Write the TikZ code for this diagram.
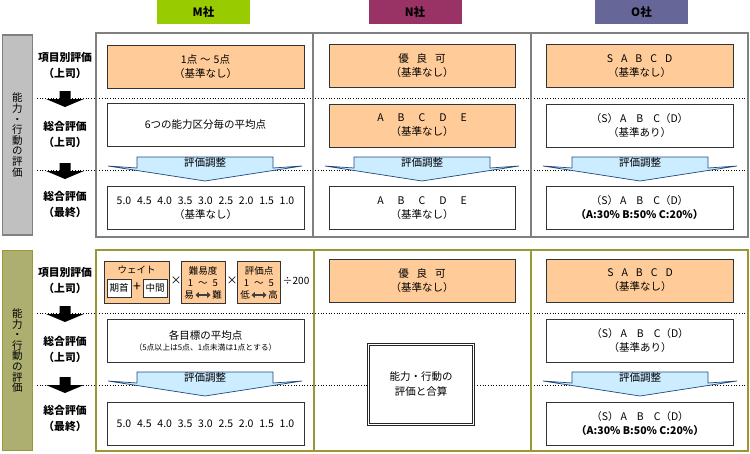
\documentclass[tikz,border=0pt]{standalone}
\usepackage{fontspec}
\setmainfont{Noto Sans CJK JP}
\usepackage{tikz}
\usetikzlibrary{shapes,arrows.meta,backgrounds}
\definecolor{peach}{RGB}{255,204,153}
\definecolor{skyfill}{RGB}{204,236,255}
\definecolor{navyline}{RGB}{31,73,125}
\definecolor{greenM}{RGB}{153,204,0}
\definecolor{wineN}{RGB}{153,51,102}
\definecolor{slateO}{RGB}{102,102,153}
\definecolor{frameGray}{RGB}{128,128,128}
\definecolor{sideGray}{RGB}{192,192,192}
\definecolor{frameOlive}{RGB}{153,153,51}
\definecolor{sideOlive}{RGB}{173,175,113}
\newcommand{\numgap}{\hspace{5.8pt}}
\tikzset{
  hdr/.style={ fill=#1, minimum width=93pt, minimum height=24pt, font=\fontsize{11.5}{13}\selectfont\bfseries }
}
\tikzset{
  orbox/.style={ draw=black!80, line width=0.8pt, fill=peach, minimum height=43pt, align=center }
}
\tikzset{
  whbox/.style={ draw=black!80, line width=0.8pt, fill=white, minimum height=43pt, align=center }
}
\tikzset{
  dblbox/.style={ draw=black!85, double, double distance=1.6pt, line width=0.8pt, fill=white, minimum width=105pt, minimum height=80pt, align=center, font=\fontsize{10.5}{15}\selectfont }
}
\tikzset{
  rowlab/.style={ align=center, font=\fontsize{10.8}{16}\selectfont\bfseries }
}
\tikzset{
  sidelab/.style={ draw=#1, line width=1.6pt, minimum width=30pt, minimum height=200pt, align=center, font=\fontsize{10.5}{10.6}\selectfont }
}
\tikzset{
  frameline/.style={ draw=#1, line width=2pt }
}
\tikzset{
  sepline/.style={ dotted, line width=0.7pt }
}
\tikzset{
  adjarr/.style={ draw=navyline, line width=0.7pt, fill=skyfill }
}
\tikzset{
  blkarr/.style={ fill=black }
}
\tikzset{
  fsmall/.style={ font=\fontsize{9.5}{11}\selectfont, inner sep=1pt }
}
\tikzset{
  inbox/.style={ draw=black!80, line width=0.7pt, fill=white, minimum width=24pt, minimum height=18pt, inner sep=0pt, font=\fontsize{9.5}{11}\selectfont }
}
\tikzset{
  dblarr/.style={ {Triangle[width=6pt,length=3.5pt]}-{Triangle[width=6pt,length=3.5pt]}, line width=2.2pt, draw=black!75, shorten <=0.5pt, shorten >=0.5pt }
}

\begin{document}
\begin{tikzpicture}[x=1pt, y=-1pt, font=\fontsize{10.5}{14}\selectfont]
  \useasboundingbox (0,0) rectangle (750,453);
  % company headers
  \node[hdr=greenM] (hM) at (203.5,12) {M社};
  \node[hdr=wineN] (hN) at (415,12) {N社};
  \node[hdr=slateO] (hO) at (641.5,12) {O社};

  % upper panel
  \draw[sepline] (37,98) -- (748,98);
  \draw[sepline] (37,170) -- (748,170);
  \node[sidelab=frameGray, fill=sideGray] (sideU) at (17.5,135) {能\\力\\・\\行\\動\\の\\評\\価};
  \draw[frameline=frameGray] (96,33) rectangle (748,237);
  \draw[frameline=frameGray] (313,33) -- (313,237);
  \draw[frameline=frameGray] (531,33) -- (531,237);
  \node[rowlab] (labU1) at (65,65) {項目別評価\\（上司）};
  \node[rowlab] (labU2) at (65,134) {総合評価\\（上司）};
  \node[rowlab] (labU3) at (65,204) {総合評価\\（最終）};
  \fill[blkarr, shift={(65,91)}] (-5.5,0) -- (5.5,0) -- (5.5,8) -- (19,8) -- (0,16) -- (-19,8) -- (-5.5,8) -- cycle;
  \fill[blkarr, shift={(65,163)}] (-5.5,0) -- (5.5,0) -- (5.5,8) -- (19,8) -- (0,16) -- (-19,8) -- (-5.5,8) -- cycle;

  \node[orbox, minimum width=197pt] (mU1) at (205.5,66.5) {1点\hspace{3pt}～\hspace{3pt}5点\\（基準なし）};
  \node[whbox, minimum width=197pt] (mU2) at (205.5,125) {6つの能力区分毎の平均点};
  \node[whbox, minimum width=197pt] (mU3) at (205.5,208) {5.0\numgap 4.5\numgap 4.0\numgap 3.5\numgap 3.0\numgap 2.5\numgap 2.0\numgap 1.5\numgap 1.0\\（基準なし）};
  \node[orbox, minimum width=186pt] (nU1) at (422,66) {優\hspace{8pt}良\hspace{8pt}可\\（基準なし）};
  \node[orbox, minimum width=186pt] (nU2) at (422,125.5) {A\hspace{14pt}B\hspace{14pt}C\hspace{14pt}D\hspace{14pt}E\\（基準なし）};
  \node[whbox, minimum width=186pt] (nU3) at (422,208) {A\hspace{14pt}B\hspace{14pt}C\hspace{14pt}D\hspace{14pt}E\\（基準なし）};
  \node[orbox, minimum width=187pt] (oU1) at (639.5,66) {S\hspace{8pt}A\hspace{8pt}B\hspace{8pt}C\hspace{8pt}D\\（基準なし）};
  \node[whbox, minimum width=187pt] (oU2) at (639.5,125.5) {（S）\hspace{2pt}A\hspace{10pt}B\hspace{10pt}C（D）\\（基準あり）};
  \node[whbox, minimum width=187pt] (oU3) at (639.5,208) {（S）\hspace{2pt}A\hspace{10pt}B\hspace{10pt}C（D）\\\textbf{（A:30\% B:50\% C:20\%）}};

  \draw[adjarr, shift={(205,157)}] (-68,0) -- (68,0) -- (68,11) -- (97,9) -- (0,24) -- (-97,9) -- (-68,11) -- cycle;
  \node (adjMU) at (205,162.5) {評価調整};
  \draw[adjarr, shift={(422,157)}] (-68,0) -- (68,0) -- (68,11) -- (97,9) -- (0,24) -- (-97,9) -- (-68,11) -- cycle;
  \node (adjNU) at (422,162.5) {評価調整};
  \draw[adjarr, shift={(640,157)}] (-68,0) -- (68,0) -- (68,11) -- (97,9) -- (0,24) -- (-97,9) -- (-68,11) -- cycle;
  \node (adjOU) at (640,162.5) {評価調整};

  % lower panel
  \draw[sepline] (37,313) -- (748,313);
  \draw[sepline] (37,385) -- (748,385);
  \node[sidelab=frameOlive, fill=sideOlive] (sideL) at (17.5,350.5) {能\\力\\・\\行\\動\\の\\評\\価};
  \draw[frameline=frameOlive] (96,250) rectangle (748,451);
  \draw[frameline=frameOlive] (314,250) -- (314,451);
  \draw[frameline=frameOlive] (531,250) -- (531,451);
  \node[rowlab] (labL1) at (65,280.5) {項目別評価\\（上司）};
  \node[rowlab] (labL2) at (65,349) {総合評価\\（上司）};
  \node[rowlab] (labL3) at (65,418) {総合評価\\（最終）};
  \fill[blkarr, shift={(65,306)}] (-5.5,0) -- (5.5,0) -- (5.5,8) -- (19,8) -- (0,16) -- (-19,8) -- (-5.5,8) -- cycle;
  \fill[blkarr, shift={(65,377)}] (-5.5,0) -- (5.5,0) -- (5.5,8) -- (19,8) -- (0,16) -- (-19,8) -- (-5.5,8) -- cycle;

  % M: weight formula
  \node[orbox, minimum width=65pt, minimum height=42pt] (wgt) at (136.5,282) {};
  \node[fsmall] (wgtT) at (136.5,270) {ウェイト};
  \node[inbox] (kishu) at (119,288) {期首};
  \node[inbox] (chukan) at (155,288) {中間};
  \node[font=\fontsize{14}{14}\selectfont, inner sep=0pt] (plus) at (137,287) {+};
  \node[font=\fontsize{11}{12}\selectfont] (mul1) at (176,281) {×};
  \node[orbox, minimum width=44pt, minimum height=42pt] (dif) at (203,282) {};
  \node[fsmall] (difT) at (203,271) {難易度};
  \node[fsmall] (difR) at (203,283) {1\hspace{5pt}～\hspace{5pt}5};
  \node[fsmall] (dEasy) at (189,295) {易};
  \node[fsmall] (dHard) at (217,295) {難};
  \draw[dblarr] (dEasy.east) -- (dHard.west);
  \node[font=\fontsize{11}{12}\selectfont] (mul2) at (232,281) {×};
  \node[orbox, minimum width=43pt, minimum height=42pt] (evl) at (259,282) {};
  \node[fsmall] (evlT) at (259,271) {評価点};
  \node[fsmall] (evlR) at (259,283) {1\hspace{5pt}～\hspace{5pt}5};
  \node[fsmall] (vLow) at (245,295) {低};
  \node[fsmall] (vHigh) at (273,295) {高};
  \draw[dblarr] (vLow.east) -- (vHigh.west);
  \node[font=\fontsize{10}{11}\selectfont] (div) at (296,281) {÷200};

  \node[whbox, minimum width=197pt] (mL2) at (205.5,340.5) {各目標の平均点\\[-3pt]{\fontsize{7.8}{9}\selectfont（5点以上は5点、1点未満は1点とする）}};
  \node[whbox, minimum width=197pt] (mL3) at (205.5,423.5) {5.0\numgap 4.5\numgap 4.0\numgap 3.5\numgap 3.0\numgap 2.5\numgap 2.0\numgap 1.5\numgap 1.0};
  \node[orbox, minimum width=186pt] (nL1) at (422,280.5) {優\hspace{8pt}良\hspace{8pt}可\\（基準なし）};
  \node[dblbox] (sumN) at (421,384.5) {能力・行動の\\評価と合算};
  \node[orbox, minimum width=187pt] (oL1) at (640,280.5) {S\hspace{8pt}A\hspace{8pt}B\hspace{8pt}C\hspace{8pt}D\\（基準なし）};
  \node[whbox, minimum width=187pt] (oL2) at (640,340.5) {（S）\hspace{2pt}A\hspace{10pt}B\hspace{10pt}C（D）\\（基準あり）};
  \node[whbox, minimum width=187pt] (oL3) at (640,423.5) {（S）\hspace{2pt}A\hspace{10pt}B\hspace{10pt}C（D）\\\textbf{（A:30\% B:50\% C:20\%）}};

  \draw[adjarr, shift={(205,372)}] (-68,0) -- (68,0) -- (68,11) -- (97,9) -- (0,24) -- (-97,9) -- (-68,11) -- cycle;
  \node (adjML) at (205,377.5) {評価調整};
  \draw[adjarr, shift={(640,372)}] (-68,0) -- (68,0) -- (68,11) -- (97,9) -- (0,24) -- (-97,9) -- (-68,11) -- cycle;
  \node (adjOL) at (640,377.5) {評価調整};
\end{tikzpicture}
\end{document}
